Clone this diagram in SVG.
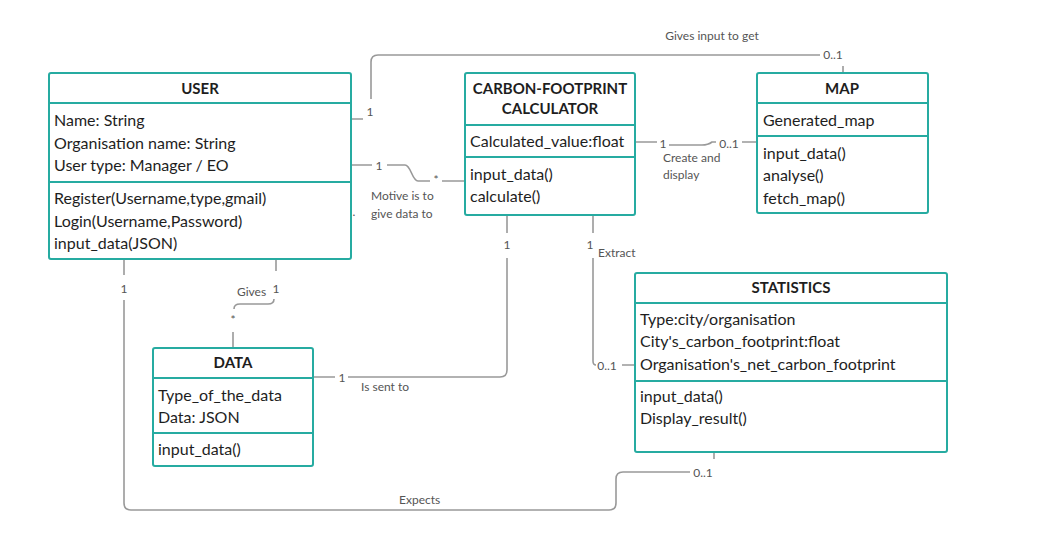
<svg xmlns="http://www.w3.org/2000/svg" width="1038" height="556" viewBox="0 0 1038 556">
<style>
.box{fill:#fff;stroke:#26aba1;stroke-width:2}
.sep{stroke:#26aba1;stroke-width:2}
.t{font-family:Lato,"Liberation Sans",sans-serif;font-size:16px;fill:#1e1e1e}
.h{font-family:Lato,"Liberation Sans",sans-serif;font-size:15px;font-weight:bold;fill:#1e1e1e;text-anchor:middle}
.c{fill:none;stroke:#999;stroke-width:1.6}
.l{font-family:Lato,"Liberation Sans",sans-serif;font-size:12px;fill:#555}
.m{text-anchor:middle}
</style>
<rect width="1038" height="556" fill="#fff"/>
<g id="connectors">
<path class="c" d="M351,119 H363 M371,99 V62 Q371,55 378,55 H820 M843,66 V73"/>
<path class="c" d="M351,165 H372 M387,165 H405 C411,165 412,181 418,181 H430 M442,181 H465"/>
<path class="c" d="M635,142 H657 M669,145 H702 Q708,145 712,142 H716 M742,142 H757"/>
<path class="c" d="M507,215 V233 M507,258 V370 Q507,377 500,377 H348 M313,377 H335"/>
<path class="c" d="M593,215 V233 M593,258 V361 Q593,365 596,365 M622,365 H635"/>
<path class="c" d="M276,259 V271 M274,299 Q274,304 268,304 H240 Q234,304 234,309 M233,332 V348"/>
<path class="c" d="M124,259 V275 M124,300 V503 Q124,510 131,510 H609 Q616,510 616,503 V479 Q616,472 623,472 H690 M714,452 V459"/>
<text class="l m" x="712" y="40">Gives input to get</text>
<text class="l m" x="370" y="116">1</text>
<text class="l m" x="833" y="59">0..1</text>
<text class="l m" x="379" y="170">1</text>
<text class="l m" x="436" y="184">*</text>
<text class="l" x="371" y="200">Motive is to</text>
<text class="l" x="371" y="218">give data to</text>
<text class="l m" x="354" y="216">.</text>
<text class="l m" x="663" y="148">1</text>
<text class="l m" x="729" y="148">0..1</text>
<text class="l" x="663" y="162">Create and</text>
<text class="l" x="663" y="179">display</text>
<text class="l m" x="507" y="249">1</text>
<text class="l m" x="590" y="249">1</text>
<text class="l" x="598" y="257">Extract</text>
<text class="l m" x="607" y="370">0..1</text>
<text class="l m" x="342" y="382">1</text>
<text class="l" x="361" y="391">Is sent to</text>
<text class="l" x="237" y="296">Gives</text>
<text class="l m" x="276" y="293">1</text>
<text class="l m" x="233" y="324">*</text>
<text class="l m" x="124" y="293">1</text>
<text class="l" x="399" y="504">Expects</text>
<text class="l m" x="703" y="477">0..1</text>
</g>
<g id="user">
<rect class="box" x="49" y="73" width="302" height="186" rx="2"/>
<line class="sep" x1="49" y1="103" x2="351" y2="103"/>
<line class="sep" x1="49" y1="182" x2="351" y2="182"/>
<text class="h" x="200" y="94">USER</text>
<text class="t" x="54" y="126">Name: String</text>
<text class="t" x="54" y="149">Organisation name: String</text>
<text class="t" x="54" y="171">User type: Manager / EO</text>
<text class="t" x="54" y="204">Register(Username,type,gmail)</text>
<text class="t" x="54" y="227">Login(Username,Password)</text>
<text class="t" x="54" y="249">input_data(JSON)</text>
</g>
<g id="calculator">
<rect class="box" x="465" y="73" width="170" height="142" rx="2"/>
<line class="sep" x1="465" y1="125" x2="635" y2="125"/>
<line class="sep" x1="465" y1="157" x2="635" y2="157"/>
<text class="h" x="550" y="94">CARBON-FOOTPRINT</text>
<text class="h" x="550" y="114">CALCULATOR</text>
<text class="t" x="470" y="147">Calculated_value:float</text>
<text class="t" x="470" y="180">input_data()</text>
<text class="t" x="470" y="202">calculate()</text>
</g>
<g id="map">
<rect class="box" x="757" y="73" width="171" height="140" rx="2"/>
<line class="sep" x1="757" y1="103" x2="928" y2="103"/>
<line class="sep" x1="757" y1="136" x2="928" y2="136"/>
<text class="h" x="842" y="94">MAP</text>
<text class="t" x="763" y="126">Generated_map</text>
<text class="t" x="763" y="159">input_data()</text>
<text class="t" x="763" y="181">analyse()</text>
<text class="t" x="763" y="204">fetch_map()</text>
</g>
<g id="statistics">
<rect class="box" x="635" y="273" width="312" height="179" rx="2"/>
<line class="sep" x1="635" y1="303" x2="947" y2="303"/>
<line class="sep" x1="635" y1="381" x2="947" y2="381"/>
<text class="h" x="791" y="293">STATISTICS</text>
<text class="t" x="640" y="325">Type:city/organisation</text>
<text class="t" x="640" y="347">City's_carbon_footprint:float</text>
<text class="t" x="640" y="370">Organisation's_net_carbon_footprint</text>
<text class="t" x="640" y="402">input_data()</text>
<text class="t" x="640" y="424">Display_result()</text>
</g>
<g id="data">
<rect class="box" x="153" y="348" width="160" height="118" rx="2"/>
<line class="sep" x1="153" y1="378" x2="313" y2="378"/>
<line class="sep" x1="153" y1="433" x2="313" y2="433"/>
<text class="h" x="233" y="368">DATA</text>
<text class="t" x="158" y="401">Type_of_the_data</text>
<text class="t" x="158" y="423">Data: JSON</text>
<text class="t" x="158" y="455">input_data()</text>
</g>
</svg>
